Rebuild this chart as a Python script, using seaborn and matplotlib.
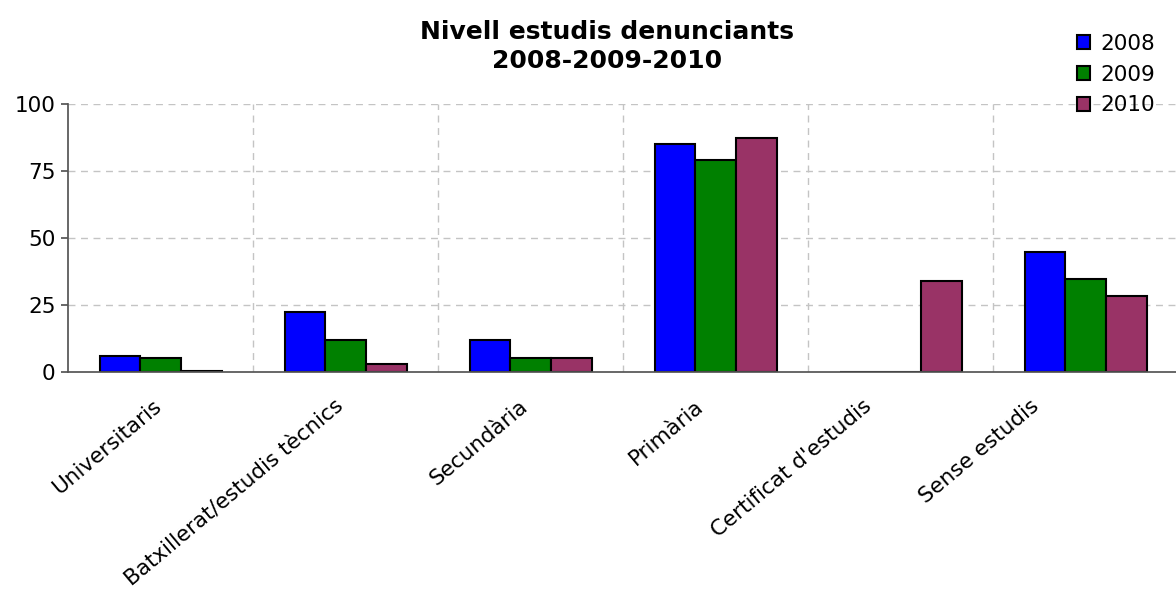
import pandas as pd
import numpy as np
import matplotlib
matplotlib.use('Agg')
import matplotlib.pyplot as plt
import matplotlib.transforms as mtransforms
import seaborn as sns
from matplotlib.ticker import FixedLocator

categories = ["Universitaris", "Batxillerat/estudis tècnics", "Secundària",
              "Primària", "Certificat d'estudis", "Sense estudis"]
years = ["2008", "2009", "2010"]
vals_2008 = [6, 22.5, 12, 85, 0, 44.8]
vals_2009 = [5.4, 12, 5.4, 79, 0, 35]
vals_2010 = [0.6, 3, 5.4, 87.2, 34.2, 28.4]
colors = ["#0000FF", "#008000", "#993366"]

rows = []
for yr, vals in zip(years, [vals_2008, vals_2009, vals_2010]):
    for c, v in zip(categories, vals):
        rows.append({"cat": c, "year": yr, "value": v})
df = pd.DataFrame(rows)

sns.set_theme(style="white")
plt.rcParams['font.family'] = ['DejaVu Sans']
plt.rcParams.update({'text.color': 'black', 'xtick.color': 'black',
                     'ytick.color': 'black', 'axes.labelcolor': 'black'})

fig = plt.figure(figsize=(11.76, 5.95), dpi=100)
ax = fig.add_axes([0.058, 0.374, 0.944, 0.451])

sns.barplot(data=df, x="cat", y="value", hue="year", order=categories,
            hue_order=years, palette=colors, width=0.66, gap=0,
            edgecolor="black", linewidth=1.5, saturation=1, ax=ax, legend=False)

ax.set_ylim(0, 100)
ax.set_xlim(-0.5, len(categories) - 0.5)
ax.set_yticks([0, 25, 50, 75, 100])
ax.set_xlabel("")
ax.set_ylabel("")

# dashed grid
for yv in [25, 50, 75, 100]:
    ax.axhline(yv, color="#c4c4c4", linestyle=(0, (5, 4)), linewidth=1, zorder=0)
for xv in np.arange(0.5, len(categories), 1):
    ax.axvline(xv, color="#c4c4c4", linestyle=(0, (5, 4)), linewidth=1, zorder=0)

# category labels at centers, tick marks on the boundaries
ax.set_xticks(range(len(categories)))
ax.set_xticklabels(categories, rotation=40, ha="right", rotation_mode="anchor",
                   fontsize=15.5)
ax.tick_params(axis="x", which="major", length=0, pad=17)
ax.xaxis.set_minor_locator(FixedLocator(np.arange(-0.5, len(categories), 1)))
ax.tick_params(axis="x", which="minor", length=6, color="#555555", direction="out")
ax.tick_params(axis="y", length=5, color="#555555", labelsize=15.5, left=True, pad=4)

# excel-style drift of the rotated labels
label_shift = [-8, -11, -12, -21, -38, -56]
for lab, dx in zip(ax.get_xticklabels(), label_shift):
    lab.set_transform(lab.get_transform() +
                      mtransforms.ScaledTranslation(dx / 100, 0, fig.dpi_scale_trans))

for s in ["top", "right"]:
    ax.spines[s].set_visible(False)
ax.spines["left"].set_color("#555555")
ax.spines["bottom"].set_color("#555555")

fig.text(0.516, 0.922, "Nivell estudis denunciants\n2008-2009-2010", ha="center",
         va="center", fontsize=18, fontweight="bold", linespacing=1.3)

handles = [plt.Rectangle((0, 0), 1, 1, facecolor=c, edgecolor="black", linewidth=1.5)
           for c in colors]
fig.legend(handles, years, loc="upper right", bbox_to_anchor=(0.993, 0.965),
           frameon=False, fontsize=15.5, handlelength=0.6, handleheight=0.6,
           handletextpad=0.45, labelspacing=0.5, borderpad=0.1)

fig.savefig("out.png", dpi=100)
